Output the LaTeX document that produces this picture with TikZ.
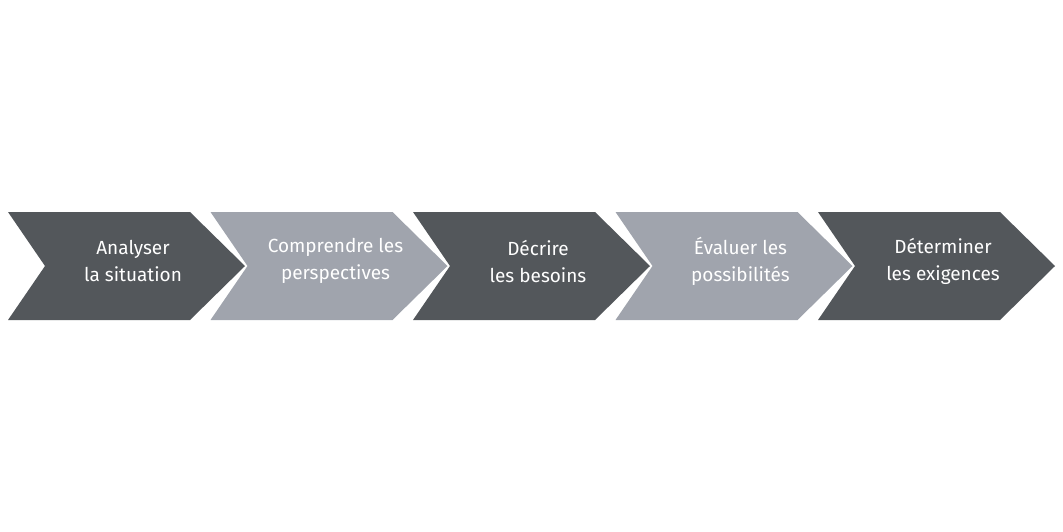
\documentclass[tikz,border=0pt]{standalone}
\usepackage{fontspec}
\setmainfont{Fira Sans}
\definecolor{darkstep}{HTML}{53575B}
\definecolor{lightstep}{HTML}{A0A4AD}
\tikzset{steplabel/.style={text=white,align=center,font=\fontsize{19}{27}\selectfont}}

\begin{document}
\begin{tikzpicture}[x=1pt,y=-1pt]
                   \useasboundingbox (0,0) rectangle (1063,531);
                   \foreach \i/\col/\txt in {0/darkstep/{Analyser\\la situation},
                                             1/lightstep/{Comprendre les\\perspectives},
                                             2/darkstep/{Décrire\\les besoins},
                                             3/lightstep/{Évaluer les\\possibilités},
                                             4/darkstep/{Déterminer\\les exigences}}
                   {
                    \pgfmathsetmacro{\xa}{8+202.5*\i}
                    \fill[\col] (\xa,212) -- ++(182,0) -- ++(55,54) -- ++(-55,54)
                          -- ++(-182,0) -- ++(37,-54) -- cycle;
                    \node[steplabel] (step\i) at (\xa+125,261) {\txt};
                   }
                \end{tikzpicture}
\end{document}
